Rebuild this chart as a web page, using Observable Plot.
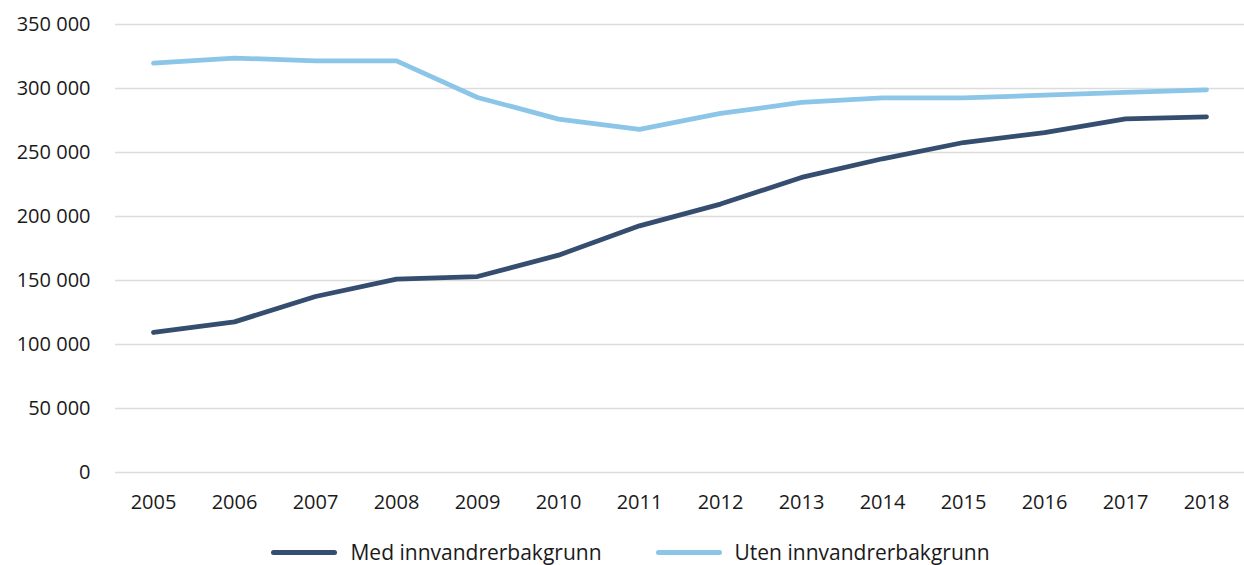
<!DOCTYPE html>
<html>
<head>
<meta charset="utf-8">
<script src="https://cdn.jsdelivr.net/npm/d3@7"></script>
<script src="https://cdn.jsdelivr.net/npm/@observablehq/plot@0.6"></script>
<style>
  html, body { margin: 0; padding: 0; background: #fff; }
  body { width: 1244px; height: 565px; overflow: hidden; font-family: "Open Sans", "Noto Sans", sans-serif; }
  #legend { position: absolute; left: 0; top: 538px; width: 1261px; display: flex; justify-content: center; gap: 54px; font-size: 21px; color: #1a1a1a; }
  .item { display: flex; align-items: center; gap: 13px; }
  .swatch { width: 66px; height: 5px; border-radius: 3px; }
</style>
</head>
<body>
<div id="chart"></div>
<div id="legend"></div>
<script>
const years = ["2005","2006","2007","2008","2009","2010","2011","2012","2013","2014","2015","2016","2017","2018"];
const seriesNames = ["Med innvandrerbakgrunn", "Uten innvandrerbakgrunn"];
const medValues = [109400, 117700, 137500, 151100, 153100, 169800, 192700, 209700, 230500, 245100, 257800, 265600, 276300, 277900];
const utenValues = [319800, 323800, 321600, 321600, 293000, 276100, 268000, 280500, 289100, 292700, 292700, 294800, 296900, 299000];
const yTicks = [0, 50000, 100000, 150000, 200000, 250000, 300000, 350000];
const colors = ["#354d6e", "#8bc5e7"];

const table = [];
years.forEach((y, i) => {
  table.push({year: y, series: seriesNames[0], value: medValues[i]});
  table.push({year: y, series: seriesNames[1], value: utenValues[i]});
});

const fmt = d3.formatLocale({thousands: "\u00a0", grouping: [3], decimal: ",", currency: ["", ""]}).format(",");

const chart = Plot.plot({
  width: 1244,
  height: 520,
  marginLeft: 115,
  marginRight: 0,
  marginTop: 24,
  marginBottom: 48,
  style: {fontFamily: "'Open Sans', 'Noto Sans', sans-serif", fontSize: "20px", color: "#1a1a1a", background: "#fff"},
  x: {type: "point", domain: years, padding: 0.43, label: null},
  y: {domain: [0, 350000], ticks: yTicks, label: null},
  color: {domain: seriesNames, range: colors},
  marks: [
    Plot.gridY(yTicks, {stroke: "#dcdcdc", strokeOpacity: 1, strokeWidth: 1.5}),
    Plot.axisY(yTicks, {tickSize: 0, tickPadding: 25, tickFormat: fmt, label: null, fontSize: 20}),
    Plot.axisX({tickSize: 0, tickPadding: 22, label: null, fontSize: 20}),
    Plot.line(table, {x: "year", y: "value", z: "series", stroke: "series", strokeWidth: 4.8, strokeLinecap: "round", strokeLinejoin: "round"})
  ]
});
document.getElementById("chart").appendChild(chart);

const legend = document.getElementById("legend");
seriesNames.forEach((name, i) => {
  const item = document.createElement("div");
  item.className = "item";
  const sw = document.createElement("span");
  sw.className = "swatch";
  sw.style.background = colors[i];
  const label = document.createElement("span");
  label.textContent = name;
  item.appendChild(sw);
  item.appendChild(label);
  legend.appendChild(item);
});
</script>
</body>
</html>
